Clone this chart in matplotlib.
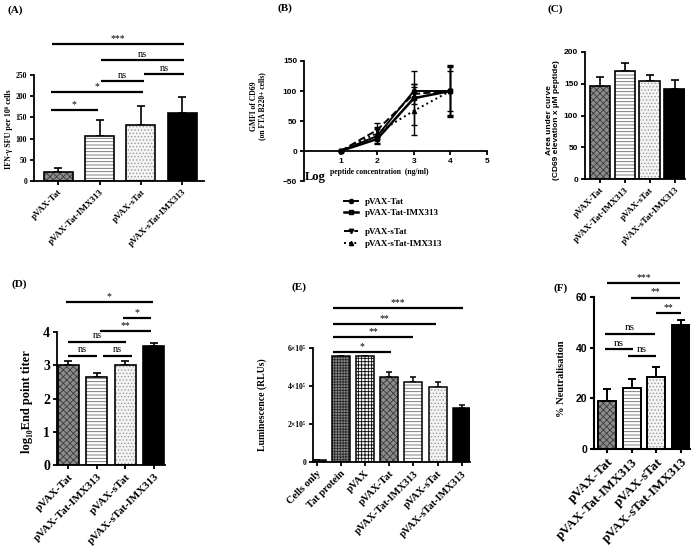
import matplotlib
matplotlib.use('Agg')
import matplotlib.pyplot as plt
import numpy as np
from matplotlib.lines import Line2D

SERIF = ['Liberation Serif', 'DejaVu Serif']
SANS = ['Liberation Sans', 'DejaVu Sans']
plt.rcParams['font.family'] = SERIF
plt.rcParams['hatch.linewidth'] = 0.6

# ---------------- data ----------------
groups4 = ['pVAX-Tat', 'pVAX-Tat-IMX313', 'pVAX-sTat', 'pVAX-sTat-IMX313']

# (A) IFN-gamma ELISpot
a_vals = [22, 105, 133, 160]
a_err = [8, 40, 43, 39]
a_sig = [(-0.17, 0.96, 167, '*'), (-0.17, 2.05, 210, '*'), (1.04, 2.07, 235, 'ns'),
         (2.07, 3.04, 252, 'ns'), (1.04, 3.04, 285, 'ns'), (-0.14, 3.04, 323, '***')]

# (B) CD69 dose response
b_x = [1, 2, 3, 4]
b_tat = [0, 25, 100, 100]
b_tat_err = [0, 12, 12, 44]
b_tatimx = [0, 20, 88, 100]
b_tatimx_err = [0, 9, 45, 42]
b_stat = [0, 35, 95, 100]
b_stat_err = [0, 12, 17, 40]
b_statimx = [0, 30, 67, 100]
b_statimx_err = [0, 10, 40, 33]

# (C) Area under curve
c_vals = [147, 170, 155, 141]
c_err = [13, 13, 8, 15]

# (D) end point titer
d_vals = [3.0, 2.65, 3.0, 3.58]
d_err = [0.13, 0.12, 0.13, 0.10]
d_sig = [(-0.02, 1.0, 3.28, 'ns'), (1.21, 2.23, 3.28, 'ns'), (-0.02, 2.02, 3.70, 'ns'),
         (1.1, 2.9, 4.03, '**'), (1.91, 2.9, 4.42, '*'), (-0.09, 2.96, 4.9, '*')]

# (E) luminescence
e_groups = ['Cells only', 'Tat protein', 'pVAX', 'pVAX-Tat', 'pVAX-Tat-IMX313',
            'pVAX-sTat', 'pVAX-sTat-IMX313']
e_vals = [8e3, 5.6e5, 5.6e5, 4.5e5, 4.22e5, 3.95e5, 2.85e5]
e_err = [2e3, 0, 0, 2.5e4, 2.8e4, 2.7e4, 1.7e4]
e_ticks = [0, 2e5, 4e5, 6e5]
e_ticklabels = ['0', '2×10⁵', '4×10⁵', '6×10⁵']
e_sig = [(0.68, 3.08, 5.77e5, '*'), (0.68, 3.99, 6.56e5, '**'),
         (0.68, 4.94, 7.27e5, '**'), (0.68, 6.05, 8.12e5, '***')]

# (F) neutralisation
f_vals = [19, 24, 28.5, 49]
f_err = [4.5, 3.5, 4, 2]
f_sig = [(-0.08, 1.05, 39.3, 'ns'), (0.85, 1.98, 36.6, 'ns'), (-0.08, 1.94, 45.3, 'ns'),
         (1.98, 3.0, 53.7, '**'), (0.97, 2.96, 59.7, '**'), (0.0, 2.96, 65.5, '***')]

# ---------------- styles ----------------
ST = {
    'pVAX-Tat': dict(fc='#8c8c8c', hatch='xxxxx', hc='#3a3a3a'),
    'pVAX-Tat-IMX313': dict(fc='white', hatch='-----', hc='#6a6a6a'),
    'pVAX-sTat': dict(fc='#f4f4f4', hatch='.....', hc='#9a9a9a'),
    'pVAX-sTat-IMX313': dict(fc='black', hatch='', hc='black'),
    'Cells only': dict(fc='#555555', hatch='', hc='#555555'),
    'Tat protein': dict(fc='#8a8a8a', hatch='++++++', hc='#2a2a2a'),
    'pVAX': dict(fc='white', hatch='+++++', hc='black'),
}

fig = plt.figure(figsize=(7, 5.6), dpi=100)


def axes_px(l, r, t, b):
    return fig.add_axes([l / 700, 1 - b / 560, (r - l) / 700, (b - t) / 560])


def style_axes(ax, lw=1.3):
    for s in ['top', 'right']:
        ax.spines[s].set_visible(False)
    for s in ['left', 'bottom']:
        ax.spines[s].set_linewidth(lw)
    ax.tick_params(width=lw, length=3, direction='out', pad=2)


def bars(ax, names, vals, errs, width, lw=1.2, cap=3):
    x = np.arange(len(vals))
    ax.errorbar(x, vals, yerr=[np.zeros(len(vals)), errs], fmt='none', ecolor='black',
                elinewidth=lw, capsize=cap, capthick=lw, zorder=1)
    for xi, n, v in zip(x, names, vals):
        st = ST[n]
        ax.bar(xi, v, width, color=st['fc'], hatch=st['hatch'], edgecolor=st['hc'],
               linewidth=0, zorder=2)
    ax.bar(x, vals, width, facecolor='none', edgecolor='black', linewidth=lw, zorder=3)


def xlabels(ax, names, fs):
    ax.set_xticks(np.arange(len(names)))
    ax.set_xticklabels(names, rotation=45, ha='right', va='top', rotation_mode='anchor',
                       fontsize=fs, fontweight='bold', family=SERIF)


def sig(ax, items, dy, fs_star, fs_ns, lw=1.6):
    for x1, x2, y, lab in items:
        ax.plot([x1, x2], [y, y], color='black', lw=lw, clip_on=False, solid_capstyle='butt')
        if lab == 'ns':
            ax.text((x1 + x2) / 2, y + dy * 0.3, lab, ha='center', va='bottom', fontsize=fs_ns,
                    family=SERIF, clip_on=False)
        else:
            ax.text((x1 + x2) / 2, y + dy * 0.2, lab, ha='center', va='bottom', fontsize=fs_star,
                    family=SERIF, clip_on=False)


def ytick_font(ax, fs, fam):
    for t in ax.get_yticklabels():
        t.set_fontsize(fs)
        t.set_fontweight('bold')
        t.set_family(fam)


def title(x, y, s):
    fig.text(x / 700, 1 - y / 560, s, ha='left', va='top', fontsize=8, fontweight='bold',
             family=SERIF)


def ylab(x, y, s, fs, fam=SERIF):
    fig.text(x / 700, 1 - y / 560, s, ha='center', va='center', rotation=90, fontsize=fs,
             fontweight='bold', family=fam, linespacing=1.1)


# ---------------- (A) ----------------
axA = axes_px(34, 204, 75, 181)
bars(axA, groups4, a_vals, a_err, 0.7)
axA.set_xlim(-0.58, 3.52)
axA.set_ylim(0, 250)
axA.set_yticks([0, 50, 100, 150, 200, 250])
style_axes(axA)
ytick_font(axA, 5.5, SERIF)
xlabels(axA, groups4, 6.5)
sig(axA, a_sig, 12, 7, 7.5)
ylab(9, 129, 'IFN-γ SFU per 10⁶ cells', 5.8)
title(8, 5, '(A)')

# ---------------- (B) ----------------
axB = axes_px(304, 487, 61, 181)
b_specs = [
    ('pVAX-Tat', b_tat, b_tat_err, 'o', '-', 1.4, 3.0),
    ('pVAX-Tat-IMX313', b_tatimx, b_tatimx_err, 's', '-', 1.8, 3.2),
    ('pVAX-sTat', b_stat, b_stat_err, 'v', '--', 1.4, 3.2),
    ('pVAX-sTat-IMX313', b_statimx, b_statimx_err, '^', ':', 1.4, 3.0),
]
handles = []
for name, v, e, m, ls, lw, ms in b_specs:
    axB.errorbar(b_x, v, yerr=e, color='black', lw=lw, ls=ls, marker=m, ms=ms,
                 capsize=2.5, elinewidth=1.0, capthick=1.0, clip_on=False)
    handles.append(Line2D([], [], color='black', lw=lw, ls=ls, marker=m, ms=ms))
axB.set_xlim(0, 5)
axB.set_ylim(-50, 150)
axB.set_xticks([1, 2, 3, 4, 5])
axB.set_yticks([-50, 0, 50, 100, 150])
style_axes(axB)
axB.spines['bottom'].set_position(('data', 0))
ytick_font(axB, 6, SANS)
for t in axB.get_xticklabels():
    t.set_fontsize(6)
    t.set_fontweight('bold')
    t.set_family(SANS)
ylab(258, 106, 'GMFI of CD69\n(on FTA B220+ cells)', 5.5)
fig.text(305 / 700, 1 - 180 / 560, 'Log', fontsize=9, fontweight='bold', family=SERIF,
         ha='left', va='baseline')
fig.text(330 / 700, 1 - 174 / 560, 'peptide concentration  (ng/ml)', fontsize=5.5,
         fontweight='bold', family=SERIF, ha='left', va='baseline')
leg1 = fig.legend(handles[:2], [s[0] for s in b_specs[:2]], loc='upper left',
                  bbox_to_anchor=(340 / 700, 1 - 194 / 560), frameon=False,
                  prop=dict(family=SERIF, weight='bold', size=6.5), handlelength=1.6,
                  labelspacing=0.35, handletextpad=0.8, borderaxespad=0)
leg2 = fig.legend(handles[2:], [s[0] for s in b_specs[2:]], loc='upper left',
                  bbox_to_anchor=(340 / 700, 1 - 224 / 560), frameon=False,
                  prop=dict(family=SERIF, weight='bold', size=6.5), handlelength=1.6,
                  labelspacing=0.45, handletextpad=0.8, borderaxespad=0)
title(277, 3, '(B)')

# ---------------- (C) ----------------
axC = axes_px(585, 685, 52, 179)
bars(axC, groups4, c_vals, c_err, 0.82)
axC.set_xlim(-0.6, 3.42)
axC.set_ylim(0, 200)
axC.set_yticks([0, 50, 100, 150, 200])
style_axes(axC)
ytick_font(axC, 6, SANS)
xlabels(axC, groups4, 6.5)
ylab(553, 120, 'Area under curve\n(CD69 elevation x µM peptide)', 6, SANS)
title(548, 4, '(C)')

# ---------------- (D) ----------------
axD = axes_px(57, 165, 332, 465)
bars(axD, groups4, d_vals, d_err, 0.74)
axD.set_xlim(-0.4, 3.39)
axD.set_ylim(0, 4)
axD.set_yticks([0, 1, 2, 3, 4])
style_axes(axD)
ytick_font(axD, 10, SERIF)
xlabels(axD, groups4, 8)
sig(axD, d_sig, 0.2, 7, 7.5)
ylab(27, 402, 'log₁₀End point titer', 9)
title(12, 279, '(D)')

# ---------------- (E) ----------------
axE = axes_px(313, 470, 348, 462)
bars(axE, e_groups, e_vals, e_err, 0.74, lw=1.1, cap=2.5)
axE.set_xlim(-0.15, 6.34)
axE.set_ylim(0, 6e5)
axE.set_yticks(e_ticks)
axE.set_yticklabels(e_ticklabels)
style_axes(axE)
ytick_font(axE, 5.5, SERIF)
xlabels(axE, e_groups, 7.5)
sig(axE, e_sig, 2.5e4, 7, 7)
ylab(262, 405, 'Luminescence (RLUs)', 7)
title(292, 282, '(E)')

# ---------------- (F) ----------------
axF = axes_px(594, 690, 297, 449)
bars(axF, groups4, f_vals, f_err, 0.73, lw=1.4)
axF.set_xlim(-0.53, 3.37)
axF.set_ylim(0, 60)
axF.set_yticks([0, 20, 40, 60])
style_axes(axF, lw=1.5)
ytick_font(axF, 7.5, SANS)
xlabels(axF, groups4, 9.5)
sig(axF, f_sig, 2.5, 7, 8)
ylab(561, 379, '% Neutralisation', 7.5)
title(553, 283, '(F)')

fig.savefig('out.png', dpi=100)
